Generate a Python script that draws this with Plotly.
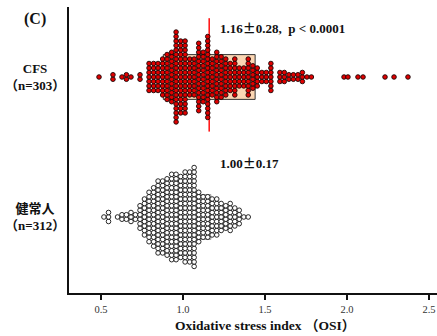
import plotly.graph_objects as go

# ---- data ----
groups = ["健常人", "CFS"]
group_n = [312, 303]
group_mean = [1.00, 1.16]
group_sd = [0.17, 0.28]

cfs_osi = [0.488, 0.573, 0.628, 0.655, 0.683, 0.738,
           0.793, 0.821, 0.848, 0.876, 0.903, 0.931, 0.958, 0.986, 1.013, 1.041,
           1.068, 1.096, 1.123, 1.151, 1.178, 1.206, 1.233, 1.261, 1.288, 1.316,
           1.343, 1.371, 1.398, 1.426, 1.453, 1.481, 1.508, 1.536,
           1.591, 1.618, 1.646, 1.673, 1.701, 1.728, 1.756, 1.783,
           1.982, 2.006, 2.067, 2.098, 2.232, 2.287, 2.372]
cfs_counts = [1, 2, 1, 2, 1, 2,
              7, 7, 7, 9, 11, 12, 21, 17, 17, 9,
              9, 16, 12, 19, 9, 12, 10, 9, 7, 9,
              5, 5, 9, 6, 5, 3, 3, 7,
              3, 3, 2, 2, 2, 3, 1, 1,
              1, 1, 1, 1, 1, 1, 1]

healthy_osi = [0.518, 0.546, 0.601, 0.628, 0.655, 0.683, 0.710, 0.738, 0.765,
               0.793, 0.821, 0.848, 0.876, 0.903, 0.931, 0.958, 0.986, 1.013,
               1.041, 1.068, 1.096, 1.123, 1.151, 1.178, 1.206, 1.233, 1.261,
               1.288, 1.316, 1.343, 1.371, 1.398]
healthy_counts = [1, 3, 1, 2, 2, 3, 2, 6, 9,
                  12, 14, 17, 17, 18, 20, 20, 19, 21,
                  21, 23, 12, 10, 10, 9, 9, 7, 6,
                  7, 5, 4, 1, 1]

x_tick_vals = [0.5, 1.0, 1.5, 2.0, 2.5]
x_tick_text = ["0.5", "1.0", "1.5", "2.0", "2.5"]
x_title = "Oxidative stress index （OSI）"
p_text = "p < 0.0001"
panel_label = "(C)"

# ---- layout helpers ----
STEP = 0.0321  # vertical spacing of stacked dots (in y units)


def stack(values, counts, center):
    xs, ys = [], []
    for v, n in zip(values, counts):
        for i in range(n):
            xs.append(v)
            ys.append(center + (i - (n - 1) / 2) * STEP)
    return xs, ys


serif = "Liberation Serif, Times New Roman, serif"
cjk = serif + ", Noto Sans CJK JP"
PM = "<span style='font-family:Noto Sans CJK JP'>±</span>"
fig = go.Figure()

# boxes (mean ± SD) and mean line
fig.add_shape(type="rect", x0=group_mean[0] - group_sd[0], x1=group_mean[0] + group_sd[0],
              y0=-0.16, y1=0.16, fillcolor="white", line=dict(color="#999", width=1),
              layer="below")
fig.add_shape(type="rect", x0=group_mean[1] - group_sd[1], x1=group_mean[1] + group_sd[1],
              y0=1 - 0.16, y1=1 + 0.16, fillcolor="#FBD6B3", line=dict(color="#333", width=1),
              layer="below")
fig.add_shape(type="line", x0=group_mean[1], x1=group_mean[1], y0=1 - 0.39, y1=1 + 0.42,
              line=dict(color="#ff1a1a", width=1.6), layer="below")

hx, hy = stack(healthy_osi, healthy_counts, 0)
fig.add_trace(go.Scatter(x=hx, y=hy, mode="markers",
                         marker=dict(size=4.6, color="white", line=dict(color="#111", width=0.9)),
                         showlegend=False, hoverinfo="skip"))
cx, cy = stack(cfs_osi, cfs_counts, 1)
fig.add_trace(go.Scatter(x=cx, y=cy, mode="markers",
                         marker=dict(size=4.6, color="#e00000", line=dict(color="#1a0505", width=0.9)),
                         showlegend=False, hoverinfo="skip"))

# texts
cfs_stat = "<b>%.2f%s%.2f,  %s</b>" % (group_mean[1], PM, group_sd[1], p_text)
hc_stat = "<b>%.2f%s%.2f</b>" % (group_mean[0], PM, group_sd[0])
fig.add_annotation(x=1.213, y=1.357, xref="x", yref="y", text=cfs_stat,
                   showarrow=False, xanchor="left", yanchor="middle",
                   font=dict(family=serif, size=13, color="#111"))
fig.add_annotation(x=1.213, y=0.386, xref="x", yref="y", text=hc_stat,
                   showarrow=False, xanchor="left", yanchor="middle",
                   font=dict(family=serif, size=13, color="#111"))
fig.add_annotation(x=0, y=1.5, xref="paper", yref="y", text="<b>" + panel_label + "</b>",
                   showarrow=False, xanchor="center", yanchor="middle",
                   xshift=-34, yshift=-12, font=dict(family=serif, size=16, color="#111"))

for yv, name, n in [(1, groups[1], group_n[1]), (0, groups[0], group_n[0])]:
    fig.add_annotation(x=0, y=yv, xref="paper", yref="y",
                       text="<b>" + name + "</b><br><b>（n=" + str(n) + "）</b>",
                       showarrow=False, xanchor="center", yanchor="middle", xshift=-34,
                       align="center",
                       font=dict(family=cjk, size=13, color="#111"))

fig.add_annotation(x=1.5, y=0, xref="x", yref="paper", text="<b>" + x_title + "</b>",
                   showarrow=False, xanchor="center", yanchor="middle", yshift=-32,
                   font=dict(family=cjk, size=13.5, color="#111"))

fig.update_layout(
    width=437, height=336,
    margin=dict(l=69, r=0, t=7, b=43),
    paper_bgcolor="white", plot_bgcolor="white",
    xaxis=dict(range=[0.305, 2.549], tickvals=x_tick_vals, ticktext=x_tick_text,
               showgrid=False, zeroline=False, showline=True, linecolor="#111", linewidth=2,
               ticks="outside", ticklen=5, tickwidth=1.5, tickcolor="#111",
               tickfont=dict(family=serif, size=10.5, color="#333")),
    yaxis=dict(range=[-0.543, 1.5], showgrid=False, zeroline=False, showline=True,
               linecolor="#111", linewidth=2, showticklabels=False, ticks=""),
)

fig.write_html("out.html", config={"displayModeBar": False},
               post_script="document.body.style.margin='0';document.body.style.overflow='hidden';")
